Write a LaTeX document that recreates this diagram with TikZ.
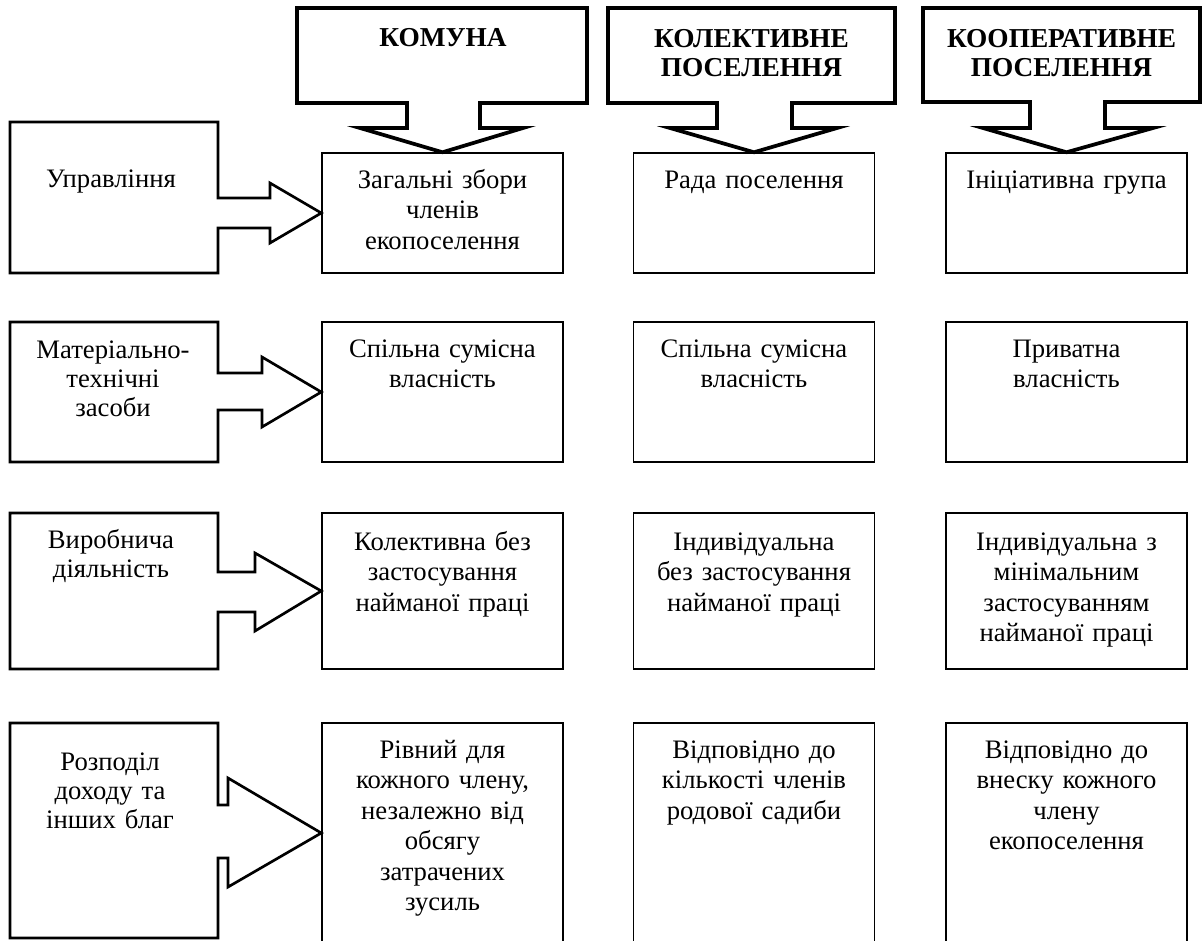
\documentclass[tikz,border=0pt]{standalone}
\usepackage{fontspec}
\setmainfont{Liberation Serif}
\begin{document}
\begin{tikzpicture}[x=0.75pt,y=-0.75pt,
  cell/.style={draw, line width=1.1pt, minimum width=180.75pt, inner sep=0pt},
  body/.style={font=\fontsize{20}{22.9}\selectfont, align=center, text width=178pt, inner sep=0pt, anchor=base},
  lbody/.style={font=\fontsize{20}{21.9}\selectfont, align=center, text width=150pt, inner sep=0pt, anchor=base},
  head/.style={font=\fontsize{20.5}{21.75}\selectfont\bfseries, align=center, text width=205pt, inner sep=0pt, anchor=base},
  hshape/.style={draw, line width=2.8pt, line join=miter},
  lshape/.style={draw, line width=2pt, line join=miter}]
\useasboundingbox (0,0) rectangle (1203,940);

% ---- cells ----
\node[cell, minimum height=90pt]  (c11) at (442.5,213) {};
\node[cell, minimum height=90pt]  (c12) at (754,213) {};
\node[cell, minimum height=90pt]  (c13) at (1066.5,213) {};
\node[cell, minimum height=105pt] (c21) at (442.5,392) {};
\node[cell, minimum height=105pt] (c22) at (754,392) {};
\node[cell, minimum height=105pt] (c23) at (1066.5,392) {};
\node[cell, minimum height=117pt] (c31) at (442.5,591) {};
\node[cell, minimum height=117pt] (c32) at (754,591) {};
\node[cell, minimum height=117pt] (c33) at (1066.5,591) {};
\node[cell, minimum height=165pt] (c41) at (442.5,833) {};
\node[cell, minimum height=165pt] (c42) at (754,833) {};
\node[cell, minimum height=165pt] (c43) at (1066.5,833) {};

% ---- cell texts ----
\node[body] (t11) at (442.5,188) {Загальні збори\\членів\\екопоселення};
\node[body] (t12) at (754,188) {Рада поселення};
\node[body] (t13) at (1066.5,188) {Ініціативна група};
\node[body] (t21) at (442.5,357) {Спільна сумісна\\власність};
\node[body] (t22) at (754,357) {Спільна сумісна\\власність};
\node[body] (t23) at (1066.5,357) {Приватна\\власність};
\node[body] (t31) at (442.5,550) {Колективна без\\застосування\\найманої праці};
\node[body] (t32) at (754,550) {Індивідуальна\\без застосування\\найманої праці};
\node[body] (t33) at (1066.5,550) {Індивідуальна з\\мінімальним\\застосуванням\\найманої праці};
\node[body] (t41) at (442.5,758) {Рівний для\\кожного члену,\\незалежно від\\обсягу\\затрачених\\зусиль};
\node[body] (t42) at (754,758) {Відповідно до\\кількості членів\\родової садиби};
\node[body] (t43) at (1066.5,758) {Відповідно до\\внеску кожного\\члену\\екопоселення};

% ---- header callouts ----
\draw[hshape] (297,8) -- (587,8) -- (587,103) -- (480,103) -- (480,128) -- (523,128) -- (c11.north)
  -- (360,128) -- (407,128) -- (407,103) -- (297,103) -- cycle;
\draw[hshape] (608,8) -- (895,8) -- (895,103) -- (792,103) -- (792,128) -- (837,128) -- (c12.north)
  -- (670,128) -- (717,128) -- (717,103) -- (608,103) -- cycle;
\draw[hshape] (923,8) -- (1200,8) -- (1200,102) -- (1105,102) -- (1105,128) -- (1153,128) -- (c13.north)
  -- (983,128) -- (1030,128) -- (1030,102) -- (923,102) -- cycle;
\node[head] (h1) at (443,46) {КОМУНА};
\node[head] (h2) at (751.5,47) {КОЛЕКТИВНЕ\\ПОСЕЛЕННЯ};
\node[head] (h3) at (1061.5,47) {КООПЕРАТИВНЕ\\ПОСЕЛЕННЯ};

% ---- left callouts ----
\draw[lshape] (10,122) -- (218,122) -- (218,198) -- (270,198) -- (270,183) -- (c11.west)
  -- (270,243) -- (270,228) -- (218,228) -- (218,273) -- (10,273) -- cycle;
\draw[lshape] (10,322) -- (218,322) -- (218,373) -- (262,373) -- (262,357) -- (c21.west)
  -- (262,427) -- (262,410) -- (218,410) -- (218,462) -- (10,462) -- cycle;
\draw[lshape] (10,513) -- (218,513) -- (218,572) -- (255,572) -- (255,553) -- (c31.west)
  -- (255,631) -- (255,612) -- (218,612) -- (218,669) -- (10,669) -- cycle;
\draw[lshape] (10,723) -- (218,723) -- (218,805) -- (228,805) -- (228,778) -- (c41.west)
  -- (228,887) -- (228,858) -- (218,858) -- (218,938) -- (10,938) -- cycle;

\node[lbody] (l1) at (111,187) {Управління};
\node[lbody] (l2) at (113,358) {Матеріально-\\технічні\\засоби};
\node[lbody] (l3) at (111,548) {Виробнича\\діяльність};
\node[lbody] (l4) at (110,770) {Розподіл\\доходу та\\інших благ};
\end{tikzpicture}
\end{document}
